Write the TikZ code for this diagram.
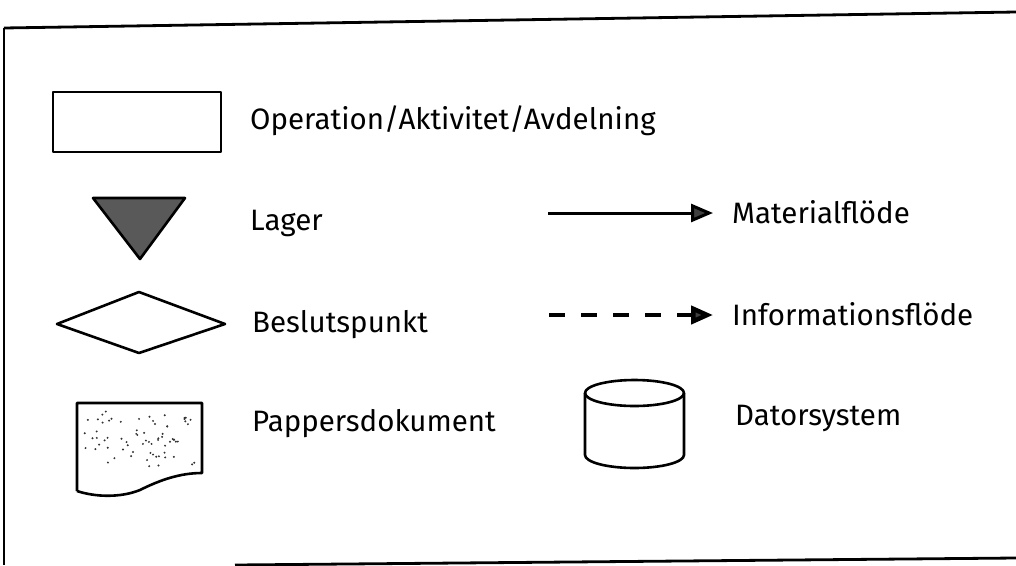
\documentclass[tikz,border=0pt]{standalone}
\usepackage{fontspec}
\setmainfont{Fira Sans}
\usetikzlibrary{arrows.meta}
\begin{document}
\begin{tikzpicture}[x=1pt,y=-1pt,
  frame line/.style={line width=2.8pt},
  symbol line/.style={line width=2.6pt, line join=round},
  legend text/.style={anchor=base west, inner sep=0pt, font=\fontsize{29.5}{34}\selectfont},
  flow tip/.style={-{Triangle[length=22pt,width=18pt,fill=black!75]}},
  flow line/.style={line width=3pt, flow tip},
  info line/.style={line width=4.5pt, flow tip, dash pattern=on 16pt off 16pt}
]
\useasboundingbox (0,0) rectangle (1016,565);

% outer frame
\draw[frame line] (1016,12) -- (4,28);
\draw[line width=1.6pt] (4,28) -- (4,565);
\draw[frame line] (235,565) -- (1016,558);

% operation box
\draw[symbol line] (53,92) rectangle (221,152);
% storage triangle
\draw[symbol line, fill=black!65] (93,198) -- (185,198) -- (140,259) -- cycle;
% decision diamond
\draw[symbol line] (57,324) -- (139,292) -- (225,324) -- (139,353) -- cycle;
% paper document
\draw[symbol line] (77,491) -- (77,403) -- (202,403) -- (202,473)
  .. controls (180,473) and (160,480) .. (140,490)
  .. controls (120,498) and (95,497) .. (77,491);
% speckles on the paper
\pgfmathsetseed{90210}
\foreach \i in {1,...,70}{
  \pgfmathsetmacro{\dx}{83+112*rnd}
  \pgfmathsetmacro{\drop}{rnd}
  \pgfmathsetmacro{\dy}{408+60*rnd}
  \fill[black!80] (\dx,\dy) circle (1.1pt);
}
% database cylinder
\draw[symbol line] (634.5,393) ellipse (49.5 and 13);
\draw[symbol line] (585,393) -- (585,455) arc[start angle=180, end angle=0, x radius=49.5, y radius=13] -- (684,393);

% flow legend arrows
\coordinate (mstart) at (548,213);
\coordinate (mend) at (713,213);
\coordinate (istart) at (549,315);
\coordinate (iend) at (713,315);
\draw[flow line] (mstart) -- (mend);
\draw[info line] (istart) -- (iend);

% labels
\node[legend text] (op)   at (250,129) {Operation/Aktivitet/Avdelning};
\node[legend text] (lag)  at (250,230) {Lager};
\node[legend text] (bes)  at (252,332) {Beslutspunkt};
\node[legend text] (pap)  at (252,431) {Pappersdokument};
\node[legend text] (mat)  at (732,223) {Materialflöde};
\node[legend text] (inf)  at (732,325) {Informationsflöde};
\node[legend text] (dat)  at (735,425) {Datorsystem};
\end{tikzpicture}
\end{document}
